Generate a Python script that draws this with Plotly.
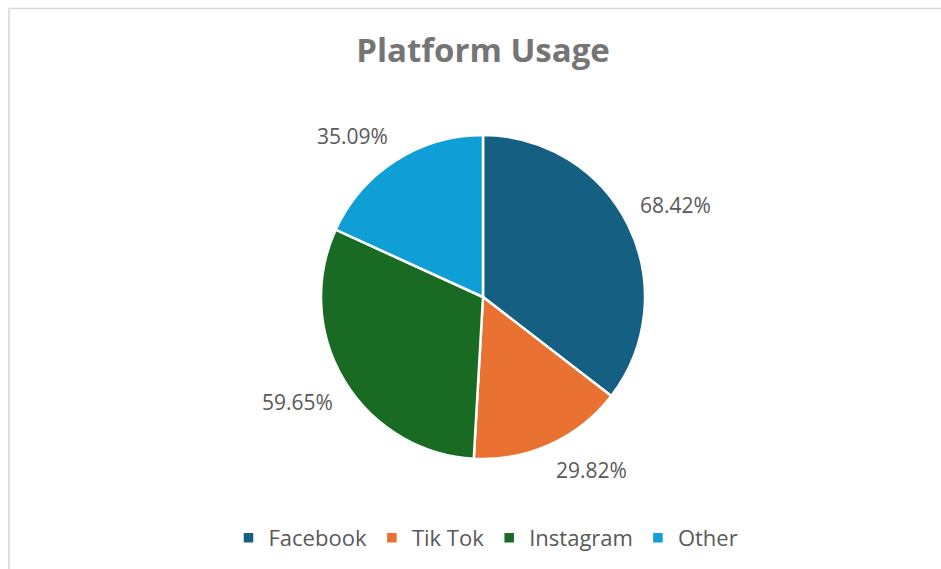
import math
import plotly.graph_objects as go

# Platform usage shares (percent of respondents using each platform)
platforms = ["Facebook", "Tik Tok", "Instagram", "Other"]
usage_pct = [68.42, 29.82, 59.65, 35.09]
slice_colors = ["#156082", "#E97132", "#196B24", "#0F9ED5"]

W, H = 941, 569
cx, cy, r = 483, 297, 162   # pie centre and radius in pixels
label_gap = 12              # distance of value labels beyond the rim

fig = go.Figure(
    go.Pie(
        labels=platforms,
        values=usage_pct,
        sort=False,
        direction="clockwise",
        rotation=0,
        marker=dict(colors=slice_colors, line=dict(color="white", width=2.5)),
        textinfo="none",
        hoverinfo="label+value",
        domain=dict(
            x=[(cx - r) / W, (cx + r) / W],
            y=[(H - cy - r) / H, (H - cy + r) / H],
        ),
    )
)

# Value labels set just outside each slice, at the slice's middle angle
total = sum(usage_pct)
annotations = []
start = 0.0
for v in usage_pct:
    span = 360.0 * v / total
    mid = math.radians(start + span / 2)
    start += span
    dx, dy = math.sin(mid), -math.cos(mid)
    px = cx + (r + label_gap) * dx
    py = cy + (r + label_gap) * dy
    annotations.append(
        dict(
            text=f"{v:.2f}%",
            x=px / W,
            y=1 - py / H,
            xref="paper",
            yref="paper",
            xanchor="left" if dx >= 0 else "right",
            yanchor="bottom" if dy < 0 else "top",
            showarrow=False,
            borderpad=0,
            font=dict(family="Open Sans", size=21, color="#595959"),
        )
    )

fig.update_layout(
    width=W,
    height=H,
    margin=dict(l=0, r=0, t=0, b=0),
    paper_bgcolor="white",
    plot_bgcolor="white",
    title=dict(
        text="<b>Platform Usage</b>",
        x=483 / W,
        xanchor="center",
        y=1 - 50 / H,
        yanchor="middle",
        font=dict(family="Open Sans", size=33, color="#757575"),
    ),
    legend=dict(
        orientation="h",
        x=486 / W,
        xanchor="center",
        y=1 - 538 / H,
        yanchor="middle",
        font=dict(family="Open Sans", size=22, color="#595959"),
        itemwidth=30,
        tracegroupgap=0,
    ),
    annotations=annotations,
    shapes=[
        dict(
            type="rect",
            xref="paper",
            yref="paper",
            x0=9 / W,
            x1=1.05,
            y0=-0.05,
            y1=1 - 8.5 / H,
            line=dict(color="#D9D9D9", width=1.5),
            layer="below",
        )
    ],
)

fig.write_html("out.html")
